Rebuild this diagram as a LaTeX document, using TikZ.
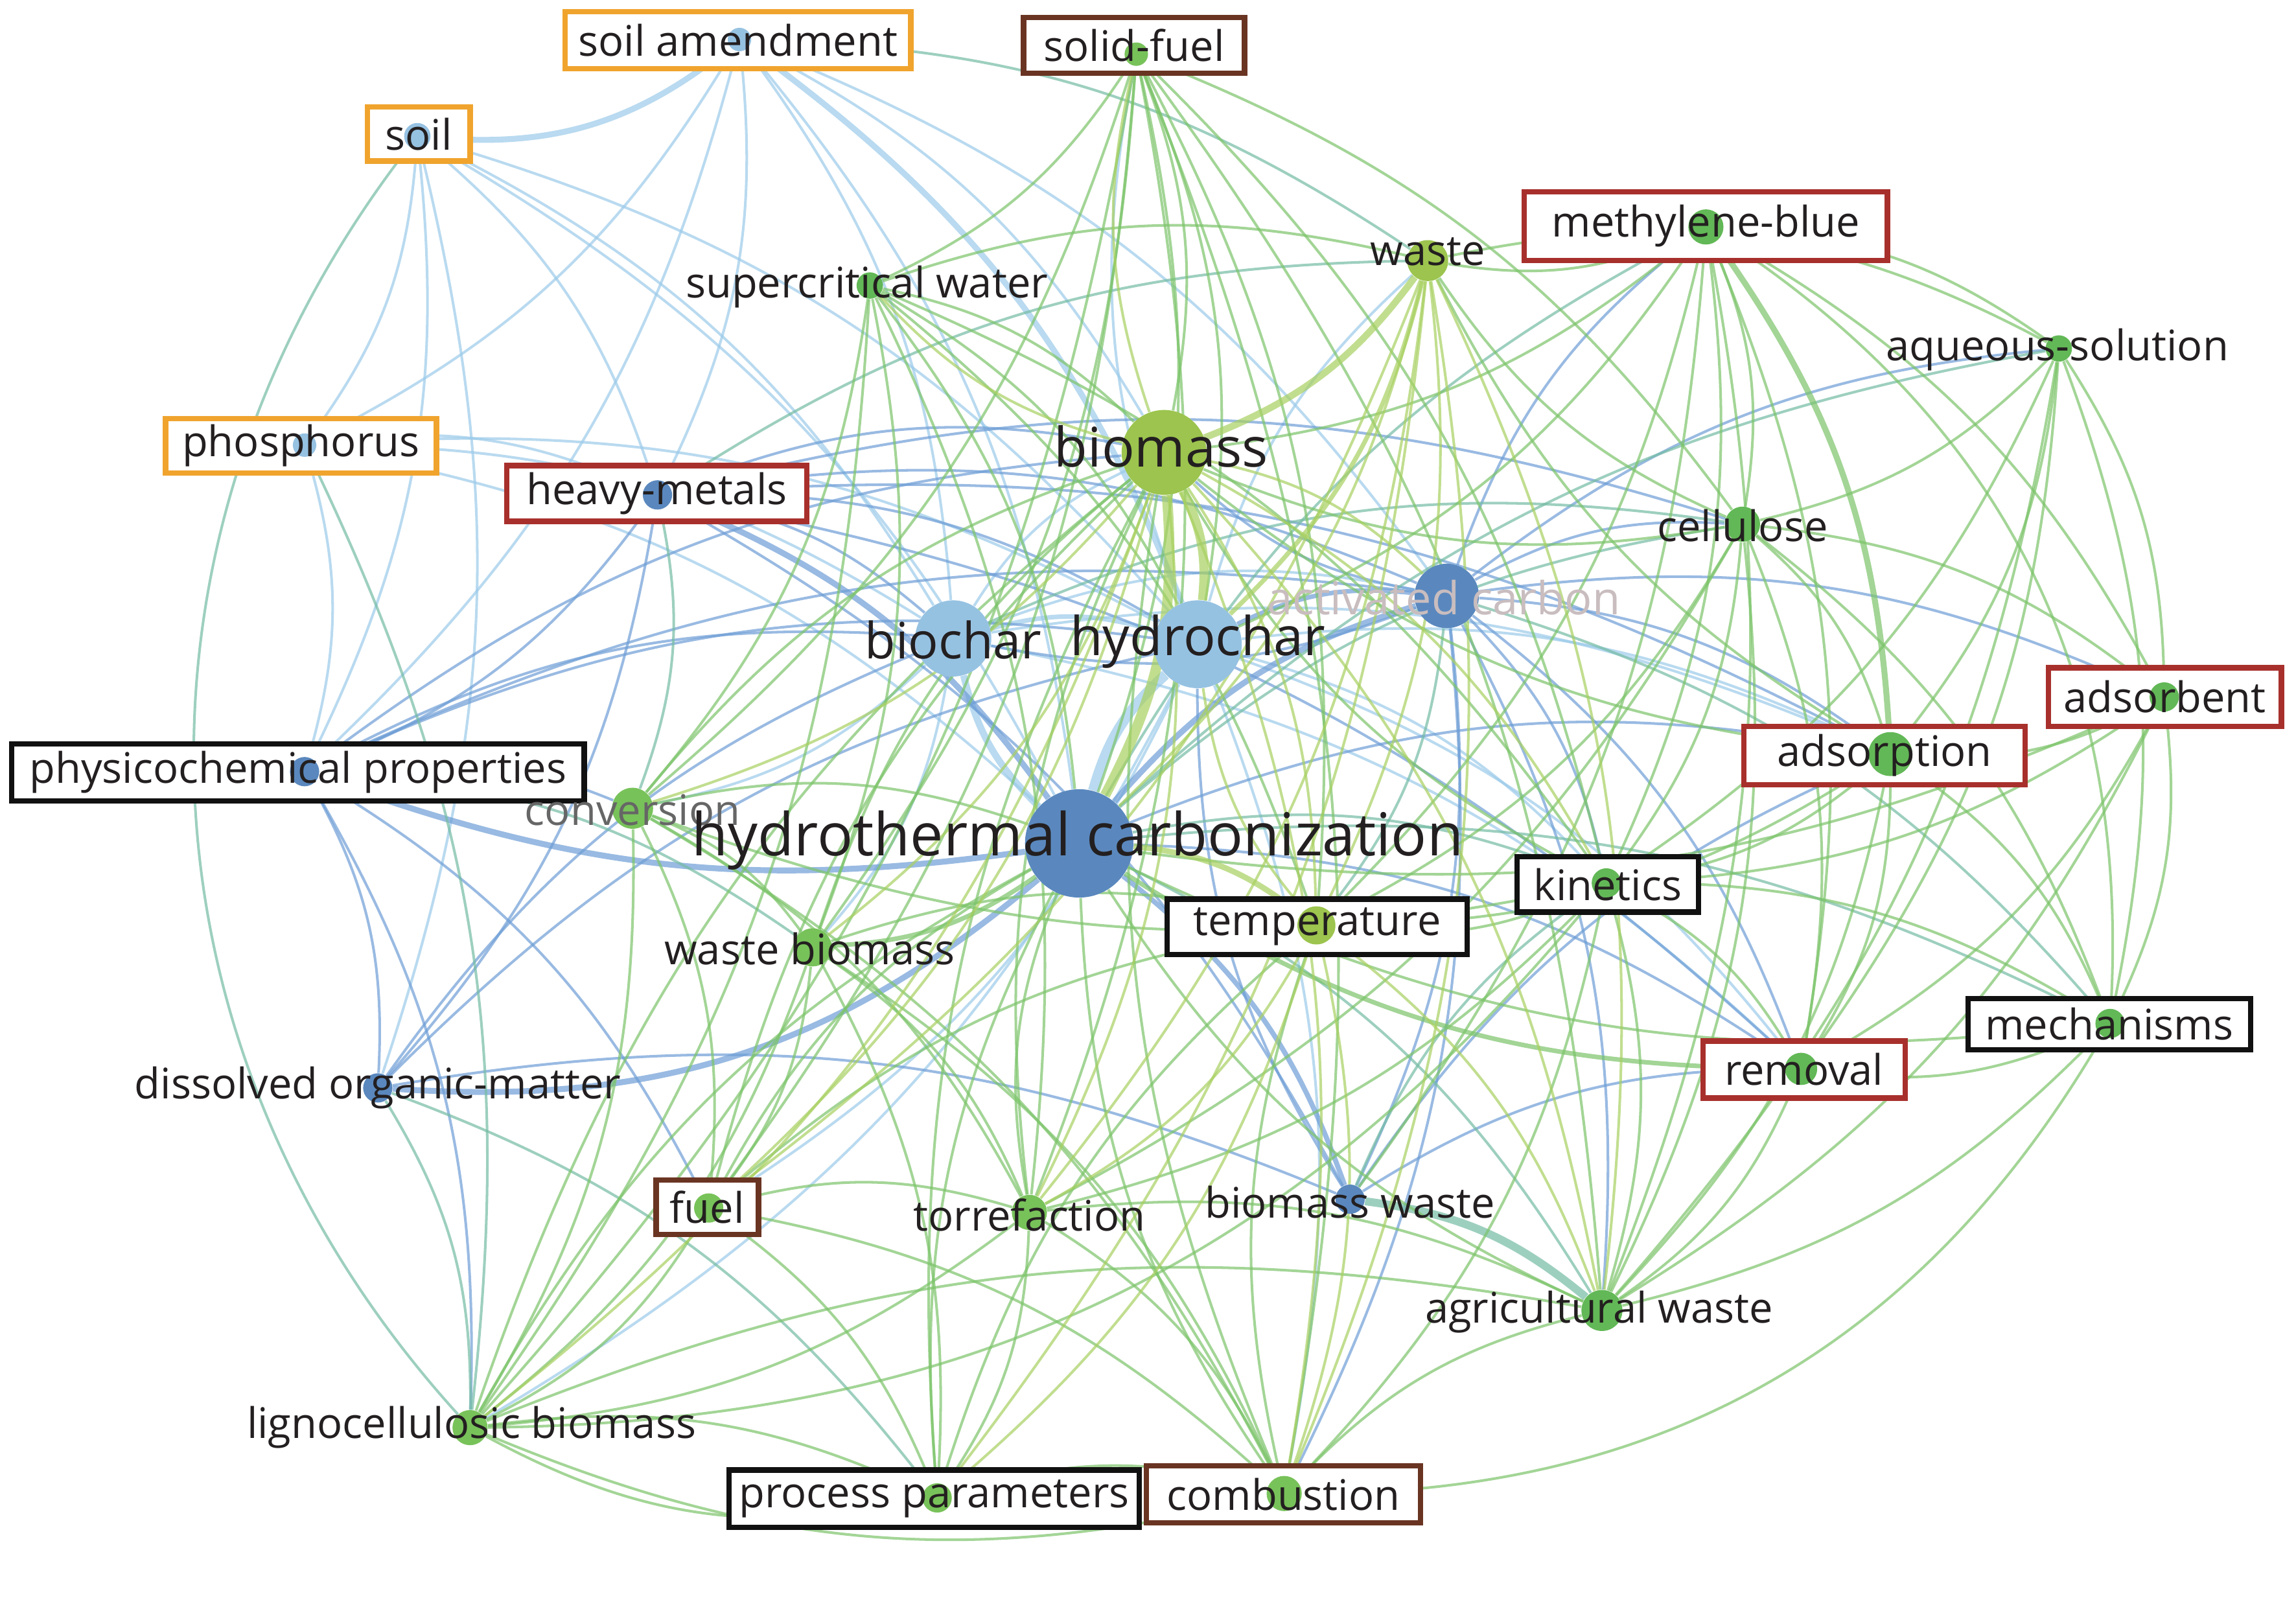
\documentclass[tikz,border=0pt]{standalone}
\usepackage{fontspec}
\setmainfont{Open Sans}
\pgfdeclarelayer{bg}
\pgfdeclarelayer{edges}
\pgfdeclarelayer{boxfill}
\pgfdeclarelayer{labels}
\pgfsetlayers{bg,edges,boxfill,main,labels}
\definecolor{cB}{HTML}{5A88BE}
\definecolor{cLB}{HTML}{96C2E2}
\definecolor{cG}{HTML}{62B856}
\definecolor{cG2}{HTML}{78C25A}
\definecolor{cYG}{HTML}{9CC44E}
\definecolor{eB}{HTML}{6E9ED6}
\definecolor{eLB}{HTML}{9CCBEA}
\definecolor{eG}{HTML}{7CC46A}
\definecolor{eT}{HTML}{74BCA4}
\definecolor{eY}{HTML}{A8D060}
\definecolor{txt}{HTML}{231F20}
\definecolor{acT}{HTML}{C9BDBF}
\definecolor{bOr}{HTML}{F0A42E}
\definecolor{bRd}{HTML}{A8302C}
\definecolor{bBr}{HTML}{6A3422}
\definecolor{bBk}{HTML}{111111}
\begin{document}
\begin{tikzpicture}[x=0.022596cm,y=-0.022596cm,
  dot/.style={circle,inner sep=0pt,draw=none,minimum size={2*#1*0.022596cm}},
  lab/.style={inner sep=0pt,text=txt,font=\fontsize{18.5}{20}\selectfont},
  bx/.style n args={3}{draw=#1,line width=2.4pt,minimum width={#2*0.022596cm},minimum height={#3*0.022596cm}},
  ed/.style={line width=#1,draw opacity=.7,bend left=16},
  ed/.default=1.15pt]
\begin{pgfonlayer}{bg}
\fill[white] (0,0) rectangle (1568,1091);
\end{pgfonlayer}
\useasboundingbox (0,0) rectangle (1568,1091);
% ---------------- circles
\node[dot=8,fill=cLB] (sa) at (505,27) {};
\node[dot=8,fill=cG2] (sf) at (776,37) {};
\node[dot=9,fill=cLB] (soil) at (285,93) {};
\node[dot=14,fill=cYG] (waste) at (975,178) {};
\node[dot=12,fill=cG] (mb) at (1165,155) {};
\node[dot=9,fill=cG] (scw) at (594,195) {};
\node[dot=9,fill=cG] (aq) at (1406,238) {};
\node[dot=8,fill=cLB] (phos) at (208,304) {};
\node[dot=10,fill=cB] (hm) at (449,338) {};
\node[dot=29,fill=cYG] (bio) at (795,309) {};
\node[dot=12,fill=cG] (cell) at (1190,358) {};
\node[dot=22,fill=cB] (ac) at (988,407) {};
\node[dot=26,fill=cLB] (bc) at (651,436) {};
\node[dot=30,fill=cLB] (hc) at (818,440) {};
\node[dot=10,fill=cG] (adsb) at (1478,476) {};
\node[dot=15,fill=cG] (adsp) at (1291,515) {};
\node[dot=10,fill=cB] (pc) at (208,527) {};
\node[dot=14,fill=cG2] (conv) at (432,552) {};
\node[dot=37,fill=cB] (htc) at (737,576) {};
\node[dot=10,fill=cG] (kin) at (1097,603) {};
\node[dot=13,fill=cYG] (temp) at (899,632) {};
\node[dot=13,fill=cG2] (wb) at (555,647) {};
\node[dot=10,fill=cG] (mech) at (1441,699) {};
\node[dot=11,fill=cG] (rem) at (1230,730) {};
\node[dot=10,fill=cB] (dom) at (258,743) {};
\node[dot=10,fill=cG2] (fuel) at (484,825) {};
\node[dot=12,fill=cG2] (torr) at (703,828) {};
\node[dot=10,fill=cB] (bw) at (922,819) {};
\node[dot=14,fill=cG] (agw) at (1094,895) {};
\node[dot=12,fill=cG2] (lig) at (321,975) {};
\node[dot=10,fill=cG2] (pp) at (640,1023) {};
\node[dot=12,fill=cG2] (comb) at (877,1020) {};
% ---------------- labels
\begin{pgfonlayer}{labels}
\node[lab,bx={bOr}{236}{39}] (l-sa) at (504,27.5) {soil amendment};
\node[lab,bx={bBr}{151}{38}] (l-sf) at (774.5,31) {solid-fuel};
\node[lab,bx={bOr}{70}{37}] (l-soil) at (286,91.5) {soil};
\node[lab,bx={bRd}{248}{47}] (l-mb) at (1165,154.5) {methylene-blue};
\node[lab,bx={bOr}{185}{37}] (l-phos) at (205.5,304.5) {phosphorus};
\node[lab,bx={bRd}{205}{38}] (l-hm) at (448.5,337) {heavy-metals};
\node[lab,bx={bRd}{159}{40}] (l-adsb) at (1478.5,476) {adsorbent};
\node[lab,bx={bRd}{192}{40}] (l-adsp) at (1287,516) {adsorption};
\node[lab,bx={bBk}{391}{39}] (l-pc) at (203.5,527.5) {physicochemical properties};
\node[lab,bx={bBk}{124}{38}] (l-kin) at (1098,604) {kinetics};
\node[lab,bx={bBk}{205}{38}] (l-temp) at (899.5,633) {temperature};
\node[lab,bx={bBk}{193}{35}] (l-mech) at (1440.5,699.5) {mechanisms};
\node[lab,bx={bRd}{138}{39}] (l-rem) at (1232,730.5) {removal};
\node[lab,bx={bBr}{70}{37}] (l-fuel) at (483,824.5) {fuel};
\node[lab,bx={bBk}{280}{39}] (l-pp) at (638,1023.5) {process parameters};
\node[lab,bx={bBr}{187}{39}] (l-comb) at (876.5,1020.5) {combustion};
\node[lab] (l-waste) at (975,172) {waste};
\node[lab] (l-scw) at (592,196) {supercritical water};
\node[lab] (l-aq) at (1405,239) {aqueous-solution};
\node[lab,font=\fontsize{24}{26}\selectfont] (l-bio) at (793,305) {biomass};
\node[lab] (l-cell) at (1190,359) {cellulose};
\node[lab,text=acT,font=\fontsize{20}{22}\selectfont] (l-ac) at (986,408) {activated carbon};
\node[lab,font=\fontsize{22}{24}\selectfont] (l-bc) at (651,437) {biochar};
\node[lab,font=\fontsize{23.5}{25}\selectfont] (l-hc) at (818,438) {hydrochar};
\node[lab,text=black!60] (l-conv) at (432,553) {conversion};
\node[lab,font=\fontsize{26}{28}\selectfont] (l-htc) at (736,574) {hydrothermal carbonization};
\node[lab] (l-wb) at (553,648) {waste biomass};
\node[lab] (l-dom) at (258,743) {dissolved organic-matter};
\node[lab] (l-torr) at (703,830) {torrefaction};
\node[lab] (l-bw) at (922,821) {biomass waste};
\node[lab] (l-agw) at (1092,896) {agricultural waste};
\node[lab] (l-lig) at (322,975) {lignocellulosic biomass};
\end{pgfonlayer}
\begin{pgfonlayer}{boxfill}
\foreach \n in {l-sa,l-sf,l-soil,l-mb,l-phos,l-hm,l-adsb,l-adsp,l-pc,l-kin,l-temp,l-mech,l-rem,l-fuel,l-pp,l-comb}
  \fill[white] (\n.south west) rectangle (\n.north east);
\end{pgfonlayer}
% ---------------- edges
\begin{pgfonlayer}{edges}
% light blue
\foreach \a/\b in {sa/hm,sa/bc,sa/htc,sa/phos,sa/pc,sa/ac,sa/bio,soil/phos,soil/hm,soil/bc,soil/hc,soil/htc,soil/pc,soil/dom,phos/hm,phos/bc,phos/hc,phos/htc,phos/pc,bc/bio,hc/adsp,hc/rem,bc/rem,hc/waste,hc/comb,hc/fuel,hc/sf,bc/conv,bc/wb,hc/lig,bc/ac,bc/adsp,hc/kin}
  \draw[draw=eLB,ed] (\a) to (\b);
\draw[draw=eLB,ed=2.6pt] (soil) to[bend right=22] (sa);
\draw[draw=eLB,ed=2.6pt] (sa) to (hc);
\draw[draw=eLB,ed=4.5pt] (htc) to (hc);
\draw[draw=eLB,ed=3pt] (htc) to (bc);
\draw[draw=eLB,ed=2pt] (bc) to (hc);
% blue
\foreach \a/\b in {hm/bc,hm/hc,hm/ac,hm/pc,hm/dom,hm/bio,hm/bw,hm/adsp,hm/rem,hm/cell,pc/bc,pc/hc,pc/ac,pc/dom,pc/bio,pc/conv,pc/lig,pc/fuel,dom/hc,dom/bc,dom/bw,ac/bw,ac/adsp,ac/rem,ac/mb,ac/kin,ac/bio,ac/bc,ac/adsb,ac/cell,ac/aq,ac/agw,ac/comb,htc/adsp,htc/rem,bw/rem,bw/adsp,bw/hc}
  \draw[draw=eB,ed] (\a) to (\b);
\draw[draw=eB,ed=2.6pt] (hm) to (htc);
\draw[draw=eB,ed=2.6pt] (pc) to[bend right=14] (htc);
\draw[draw=eB,ed=2.6pt] (dom) to[bend right=22] (htc);
\draw[draw=eB,ed=2.6pt] (htc) to (ac);
\draw[draw=eB,ed=2.2pt] (htc) to (bw);
\draw[draw=eB,ed=2pt] (hc) to (ac);
% teal
\foreach \a/\b in {sa/waste,phos/lig,pc/wb,dom/lig,hm/conv,ac/mech,htc/cell,htc/mb,htc/aq,htc/mech,htc/kin,htc/agw,bc/cell,bw/kin,ac/temp,hm/waste,dom/pp}
  \draw[draw=eT,ed] (\a) to (\b);
\draw[draw=eT,ed] (soil) to[bend right=40] (lig);
\draw[draw=eT,ed=3.5pt] (bw) to (agw);
% green
\foreach \a/\b in {sf/bio,sf/hc,sf/htc,sf/torr,sf/comb,sf/temp,sf/fuel,sf/wb,sf/lig,sf/scw,sf/kin,sf/agw,sf/conv,sf/cell,
  mb/rem,mb/adsb,mb/aq,mb/cell,mb/kin,mb/bio,mb/waste,mb/agw,mb/temp,mb/bw,mb/hc,
  aq/adsp,aq/rem,aq/adsb,aq/mech,aq/cell,aq/kin,aq/agw,
  cell/adsp,cell/rem,cell/kin,cell/mech,cell/adsb,cell/bio,cell/torr,cell/agw,cell/temp,cell/waste,
  adsb/adsp,adsb/rem,adsb/mech,adsb/kin,adsb/htc,adsb/agw,
  adsp/rem,adsp/mech,adsp/kin,adsp/agw,adsp/bio,adsp/waste,adsp/temp,
  kin/agw,kin/comb,kin/torr,kin/temp,kin/bio,kin/rem,kin/mech,kin/conv,
  mech/rem,mech/agw,mech/htc,rem/agw,
  scw/bio,scw/htc,scw/conv,scw/hc,scw/wb,scw/torr,scw/lig,scw/kin,scw/temp,scw/waste,
  conv/htc,conv/bio,conv/wb,conv/torr,conv/fuel,conv/lig,conv/comb,
  wb/torr,wb/fuel,wb/comb,wb/pp,wb/lig,wb/temp,wb/bio,
  fuel/torr,fuel/comb,fuel/lig,fuel/pp,fuel/htc,fuel/temp,fuel/bio,
  torr/comb,torr/pp,torr/lig,torr/htc,torr/bio,torr/agw,
  lig/pp,lig/htc,lig/bio,lig/agw,
  pp/comb,pp/htc,pp/temp,pp/bio,
  comb/agw,comb/htc,comb/temp,comb/bio,agw/htc}
  \draw[draw=eG,ed] (\a) to (\b);
\draw[draw=eG,ed] (aq) to[bend right=20] (waste);
\draw[draw=eG,ed] (comb) to[bend right=30] (mech);
\draw[draw=eG,ed] (mb) to[bend left=30] (mech);
\draw[draw=eG,ed] (lig) to[bend right=25] (kin);
\draw[draw=eG,ed] (pp) to[bend left=20] (lig);
\draw[draw=eG,ed] (lig) to[bend right=18] (comb);
\draw[draw=eG,ed=2.6pt] (mb) to (adsp);
\draw[draw=eG,ed=2pt] (htc) to (wb);
\draw[draw=eG,ed=2pt] (rem) to (htc);
% yellow-green
\foreach \a/\b in {bio/temp,bio/torr,bio/comb,bio/fuel,bio/lig,bio/wb,bio/agw,waste/htc,waste/temp,waste/torr,waste/comb,waste/agw,waste/fuel,waste/pp,temp/hc,temp/comb,temp/torr,temp/pp,temp/agw,bio/scw,bio/conv,bio/sf,bio/kin,bio/ac}
  \draw[draw=eY,ed] (\a) to (\b);
\draw[draw=eY,ed=4.5pt] (bio) to (htc);
\draw[draw=eY,ed=4pt] (bio) to (hc);
\draw[draw=eY,ed=3pt] (waste) to (bio);
\draw[draw=eY,ed=2.5pt] (htc) to (temp);
\draw[draw=eY,ed=2pt] (waste) to (hc);
\end{pgfonlayer}
\end{tikzpicture}
\end{document}
